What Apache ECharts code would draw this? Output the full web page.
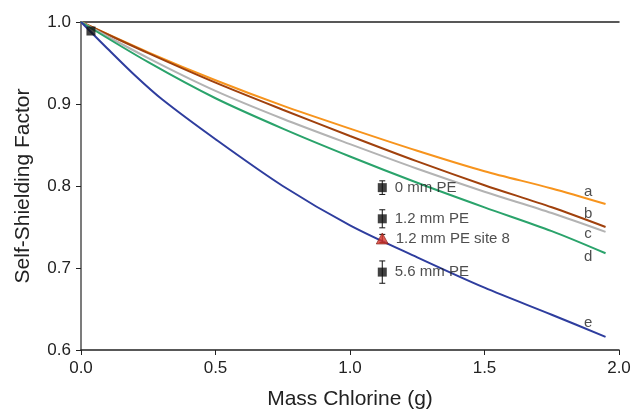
<!DOCTYPE html>
<html><head><meta charset="utf-8">
<script src="https://cdn.jsdelivr.net/npm/echarts@6/dist/echarts.min.js"></script>
<style>html,body{margin:0;padding:0;background:#fff}#c{width:631px;height:411px}</style>
</head><body><div id="c"></div>
<script>
// curve sample masses (g)
const massA = [0, 0.25, 0.5, 0.75, 1.0, 1.25, 1.5, 1.75, 1.95];
const curveA = [1.0, 0.963, 0.929, 0.898, 0.870, 0.843, 0.818, 0.797, 0.778];
const curveB = [1.0, 0.962, 0.926, 0.893, 0.861, 0.830, 0.801, 0.774, 0.750];
const curveC = [1.0, 0.956, 0.916, 0.882, 0.851, 0.821, 0.793, 0.767, 0.744];
const curveD = [1.0, 0.951, 0.907, 0.870, 0.836, 0.804, 0.774, 0.745, 0.718];
const massE = [0, 0.1, 0.2, 0.3, 0.5, 0.75, 1.0, 1.25, 1.5, 1.75, 1.95];
const curveE = [1.0, 0.967, 0.935, 0.906, 0.857, 0.800, 0.752, 0.713, 0.676, 0.643, 0.616];
const curveNames = ['a', 'b', 'c', 'd', 'e'];
const curveColors = ['#f7941d', '#a0410d', '#b3b3b3', '#2aa36b', '#2e3d9e'];
const curveLabelX = [1.885, 1.885, 1.885, 1.885, 1.885];
const curveLabelY = [0.793, 0.766, 0.742, 0.713, 0.633];

// measurements
const measNames = ['', '0 mm PE', '1.2 mm PE', '5.6 mm PE'];
const measX = [0.037, 1.12, 1.12, 1.12];
const measY = [0.989, 0.798, 0.760, 0.695];
const measErr = [0, 0.0083, 0.011, 0.0136];
const site8Name = '1.2 mm PE site 8';
const site8X = [1.12];
const site8Y = [0.736];
const site8Err = [0.005];

const xTicks = [0, 0.5, 1.0, 1.5, 2.0];
const yTicks = [0.6, 0.7, 0.8, 0.9, 1.0];

const FONT = '"Liberation Sans", Arial, sans-serif';
const zip = (xs, ys) => xs.map((x, i) => [x, ys[i]]);

const lineSeries = [curveA, curveB, curveC, curveD].map((c, i) => ({
  type: 'line', name: curveNames[i], data: zip(massA, c), smooth: 0.3,
  showSymbol: false, lineStyle: { color: curveColors[i], width: 2 }, z: 2
}));
lineSeries.push({
  type: 'line', name: 'e', data: zip(massE, curveE), smooth: 0.3,
  showSymbol: false, lineStyle: { color: curveColors[4], width: 2 }, z: 2
});

const errData = measX.map((x, i) => [x, measY[i], measErr[i]])
  .concat(site8X.map((x, i) => [x, site8Y[i], site8Err[i]]))
  .filter(d => d[2] > 0);

const chart = echarts.init(document.getElementById('c'), null, { renderer: 'canvas' });
chart.setOption({
  animation: false,
  grid: { left: 81, right: 12, top: 22, bottom: 61, containLabel: false, outerBoundsMode: 'none' },
  xAxis: [{
    type: 'value', min: 0, max: 2, interval: 0.5,
    name: 'Mass Chlorine (g)', nameLocation: 'middle', nameGap: 39,
    nameTextStyle: { fontFamily: FONT, fontSize: 21, color: '#222' },
    axisLine: { lineStyle: { color: '#222', width: 1.5 } },
    axisTick: { show: true, inside: false, length: 5, lineStyle: { color: '#222' } },
    axisLabel: { fontFamily: FONT, fontSize: 17, color: '#222', margin: 10,
      formatter: v => v.toFixed(1) },
    splitLine: { show: false }
  }, {
    type: 'value', position: 'top', min: 0, max: 2,
    axisLine: { show: true, lineStyle: { color: '#222', width: 1.5 } },
    axisTick: { show: false }, axisLabel: { show: false }, splitLine: { show: false }
  }],
  yAxis: [{
    type: 'value', min: 0.6, max: 1.0, interval: 0.1,
    name: 'Self-Shielding Factor', nameLocation: 'middle', nameGap: 47,
    nameTextStyle: { fontFamily: FONT, fontSize: 21, color: '#222' },
    axisLine: { show: true, lineStyle: { color: '#222', width: 1.5 } },
    axisTick: { show: true, inside: false, length: 5, lineStyle: { color: '#222' } },
    axisLabel: { fontFamily: FONT, fontSize: 17, color: '#222', margin: 10,
      formatter: v => v.toFixed(1) },
    splitLine: { show: false }
  }, {
    type: 'value', position: 'right', min: 0.6, max: 1.0,
    axisLine: { show: true, lineStyle: { color: '#888', width: 1.5 } },
    axisTick: { show: false }, axisLabel: { show: false }, splitLine: { show: false }
  }],
  series: lineSeries.concat([
    {
      type: 'custom', z: 5, data: errData,
      renderItem: (params, api) => {
        const x = api.value(0), y = api.value(1), e = api.value(2);
        const top = api.coord([x, y + e]), bot = api.coord([x, y - e]);
        const w = 3;
        const st = { stroke: '#111', lineWidth: 1 };
        return { type: 'group', children: [
          { type: 'line', shape: { x1: top[0], y1: top[1], x2: bot[0], y2: bot[1] }, style: st },
          { type: 'line', shape: { x1: top[0] - w, y1: top[1], x2: top[0] + w, y2: top[1] }, style: st },
          { type: 'line', shape: { x1: bot[0] - w, y1: bot[1], x2: bot[0] + w, y2: bot[1] }, style: st }
        ]};
      }
    },
    {
      type: 'scatter', z: 6, symbol: 'rect', symbolSize: 9,
      itemStyle: { color: '#111' },
      data: measX.map((x, i) => ({ value: [x, measY[i]], name: measNames[i] })),
      label: { show: true, position: 'right', distance: 8, fontFamily: FONT, fontSize: 15,
        color: '#222', formatter: p => p.name }
    },
    {
      type: 'scatter', z: 6, symbol: 'triangle', symbolSize: [12, 11],
      itemStyle: { color: '#d9342b', borderColor: '#7a1c12', borderWidth: 0.8 },
      data: site8X.map((x, i) => ({ value: [x, site8Y[i]], name: site8Name })),
      label: { show: true, position: 'right', distance: 7, fontFamily: FONT, fontSize: 15,
        color: '#222', formatter: p => p.name }
    },
    {
      type: 'scatter', z: 7, symbolSize: 0, silent: true,
      data: curveNames.map((n, i) => ({ value: [curveLabelX[i], curveLabelY[i]], name: n })),
      label: { show: true, position: 'inside', fontFamily: FONT, fontSize: 15,
        color: '#222', formatter: p => p.name }
    }
  ])
});
</script></body></html>
